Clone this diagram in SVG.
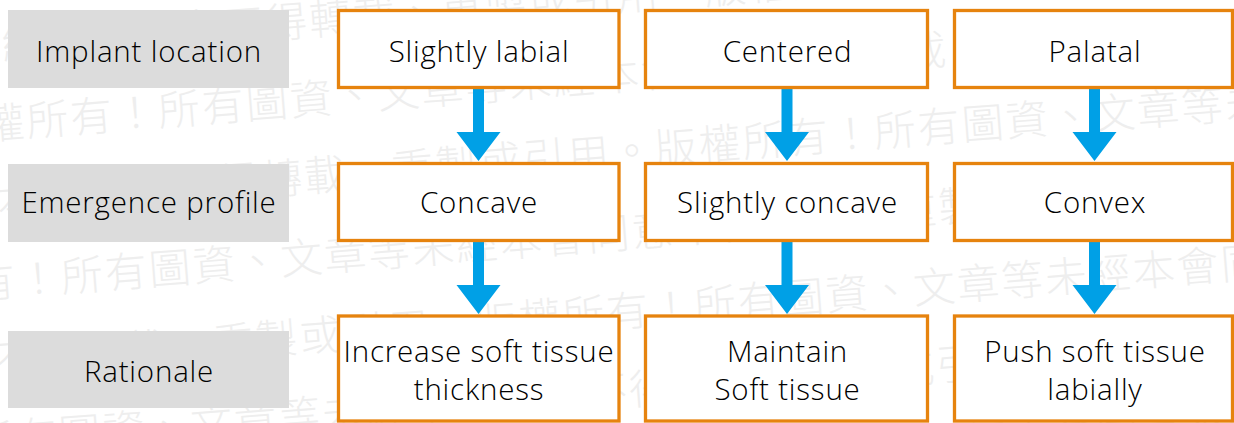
<svg xmlns="http://www.w3.org/2000/svg" width="1234" height="423" viewBox="0 0 1234 423">
<defs>
<style>
.wm{font-family:"Noto Sans CJK TC","Noto Sans CJK SC",sans-serif;font-size:42px;font-weight:300;letter-spacing:2px;fill:#eeeeee;}
.lbl{fill:#dcdcdc;}
.box{fill:#ffffff;stroke:#e6830e;stroke-width:3.3;}
.t{font-family:"Open Sans","Noto Sans",sans-serif;font-weight:300;font-size:29.5px;letter-spacing:0.8px;fill:#000;text-anchor:middle;}
.arr{fill:#00a0e6;}
</style>
</defs>
<rect width="1234" height="423" fill="#ffffff"/>
<g id="watermark">
<text class="wm" transform="translate(-611,108) rotate(-4.5)">版權所有！所有圖資、文章等未經本會同意不得轉載、重製或引用。版權所有！所有圖資、文章等未經本會同意不得轉載、重製或引用。</text>
<text class="wm" transform="translate(-60,143.5) rotate(-4.5)">版權所有！所有圖資、文章等未經本會同意不得轉載、重製或引用。版權所有！所有圖資、文章等未經本會同意不得轉載、重製或引用。</text>
<text class="wm" transform="translate(-660,268) rotate(-4.5)">版權所有！所有圖資、文章等未經本會同意不得轉載、重製或引用。版權所有！所有圖資、文章等未經本會同意不得轉載、重製或引用。</text>
<text class="wm" transform="translate(-157,309.4) rotate(-4.5)">版權所有！所有圖資、文章等未經本會同意不得轉載、重製或引用。版權所有！所有圖資、文章等未經本會同意不得轉載、重製或引用。</text>
<text class="wm" transform="translate(-840,442) rotate(-4.5)">版權所有！所有圖資、文章等未經本會同意不得轉載、重製或引用。版權所有！所有圖資、文章等未經本會同意不得轉載、重製或引用。</text>
<text class="wm" transform="translate(-247,474.4) rotate(-4.5)">版權所有！所有圖資、文章等未經本會同意不得轉載、重製或引用。版權所有！所有圖資、文章等未經本會同意不得轉載、重製或引用。</text>
<text class="wm" transform="translate(-964,610) rotate(-4.5)">版權所有！所有圖資、文章等未經本會同意不得轉載、重製或引用。版權所有！所有圖資、文章等未經本會同意不得轉載、重製或引用。</text>
</g>
<g id="row-labels">
<g id="label-implant-location"><rect class="lbl" x="8" y="10" width="281" height="78"/><text class="t" x="149" y="62">Implant location</text></g>
<g id="label-emergence-profile"><rect class="lbl" x="8" y="164" width="281" height="78"/><text class="t" x="149" y="213">Emergence profile</text></g>
<g id="label-rationale"><rect class="lbl" x="8" y="331" width="281" height="77"/><text class="t" x="149" y="382">Rationale</text></g>
</g>
<g id="connectors">
<path class="arr" d="M473,89 H484 V132 H500.5 L478.5,161 L456.5,132 H473 Z"/>
<path class="arr" d="M473,242 H484 V285 H500.5 L478.5,314 L456.5,285 H473 Z"/>
<path class="arr" d="M781.5,89 H792.5 V132 H809 L787,161 L765,132 H781.5 Z"/>
<path class="arr" d="M781.5,242 H792.5 V285 H809 L787,314 L765,285 H781.5 Z"/>
<path class="arr" d="M1089,89 H1100 V132 H1116.5 L1094.5,161 L1072.5,132 H1089 Z"/>
<path class="arr" d="M1089,242 H1100 V285 H1116.5 L1094.5,314 L1072.5,285 H1089 Z"/>
</g>
<g id="node-slightly-labial"><rect class="box" x="338.5" y="10.5" width="280.5" height="77"/><text class="t" x="479" y="62">Slightly labial</text></g>
<g id="node-centered"><rect class="box" x="645.5" y="10.5" width="282" height="77"/><text class="t" x="787.5" y="62">Centered</text></g>
<g id="node-palatal"><rect class="box" x="954.5" y="10.5" width="278" height="77"/><text class="t" x="1095" y="62">Palatal</text></g>
<g id="node-concave"><rect class="box" x="338.5" y="163.5" width="280.5" height="77"/><text class="t" x="479" y="213">Concave</text></g>
<g id="node-slightly-concave"><rect class="box" x="645.5" y="163.5" width="282" height="77"/><text class="t" x="787.5" y="213">Slightly concave</text></g>
<g id="node-convex"><rect class="box" x="954.5" y="163.5" width="278" height="77"/><text class="t" x="1095" y="213">Convex</text></g>
<g id="node-increase"><rect class="box" x="338.5" y="316" width="280.5" height="105"/><text class="t" x="479" y="362">Increase soft tissue</text><text class="t" x="479" y="400">thickness</text></g>
<g id="node-maintain"><rect class="box" x="645.5" y="316" width="282" height="105"/><text class="t" x="787.5" y="362">Maintain</text><text class="t" x="787.5" y="400">Soft tissue</text></g>
<g id="node-push"><rect class="box" x="954.5" y="316" width="278" height="105"/><text class="t" x="1095" y="362">Push soft tissue</text><text class="t" x="1095" y="400">labially</text></g>
</svg>
